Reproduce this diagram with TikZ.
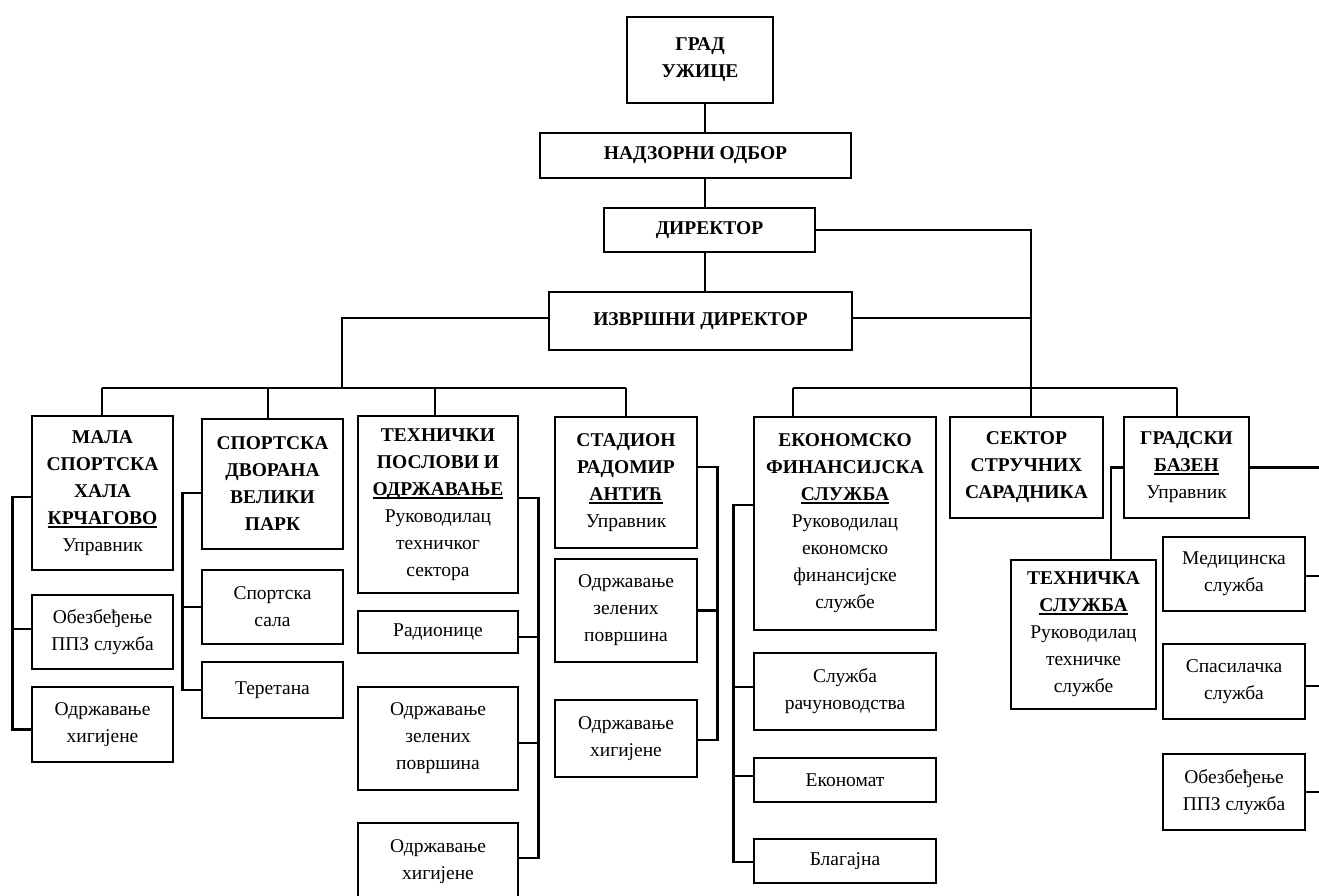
\documentclass[tikz,border=0pt]{standalone}
\usepackage{fontspec}
\setmainfont{Liberation Serif}
\newcommand\fsz{\fontsize{19.5pt}{27pt}\selectfont}
\newcommand\bfl[1]{\textbf{#1}}
\newcommand\ulc[1]{\setbox0=\hbox{\textbf{#1}}\rlap{\rule[-3.2pt]{\wd0}{1.8pt}}\box0}
\begin{document}
\begin{tikzpicture}[x=1pt,y=-1pt,
  line width=2.8pt,
  box/.style={draw, line width=2.8pt, inner sep=0pt, align=center, font=\fsz, fill=white},
  sz/.style 2 args={minimum width=#1pt, minimum height=#2pt}]
\useasboundingbox (0,0) rectangle (1319,896);
\clip (0,0) rectangle (1319,896);
\fill[white] (0,0) rectangle (1319,896);

% top chain
\node[box, sz={146}{86}] (grad) at (700,60) {\fontsize{19.5pt}{30pt}\selectfont\bfl{ГРАД}\\\bfl{УЖИЦЕ}};
\node[box, sz={311}{45}] (nad) at (695.5,155.5) {\bfl{НАДЗОРНИ ОДБОР}};
\node[box, sz={211}{44}] (dir) at (709.5,230) {\bfl{ДИРЕКТОР}};
\node[box, sz={303}{58}] (izv) at (700.5,321) {\bfl{ИЗВРШНИ ДИРЕКТОР}};

% left group
\node[box, sz={141}{154}] (mala) at (102.5,493) {\bfl{МАЛА}\\\bfl{СПОРТСКА}\\\bfl{ХАЛА}\\\ulc{КРЧАГОВО}\\Управник};
\node[box, sz={141}{74}] (malaA) at (102.5,632) {Обезбеђење\\ППЗ служба};
\node[box, sz={141}{75}] (malaB) at (102.5,724.5) {Одржавање\\хигијене};

\node[box, sz={141}{130}] (sport) at (272.5,484) {\bfl{СПОРТСКА}\\\bfl{ДВОРАНА}\\\bfl{ВЕЛИКИ}\\\bfl{ПАРК}};
\node[box, sz={141}{74}] (sala) at (272.5,607) {Спортска\\сала};
\node[box, sz={141}{56}] (teret) at (272.5,690) {Теретана};

\node[box, sz={160}{177}] (teh) at (438,504.5) {\bfl{ТЕХНИЧКИ}\\\bfl{ПОСЛОВИ И}\\\ulc{ОДРЖАВАЊЕ}\\Руководилац\\техничког\\сектора};
\node[box, sz={160}{42}] (rad) at (438,632) {Радионице};
\node[box, sz={160}{103}] (tehZ) at (438,738.5) {Одржавање\\зелених\\површина};
\node[box, sz={160}{78}] (tehH) at (438,862) {Одржавање\\хигијене};

\node[box, sz={142}{131}] (stad) at (626,482.5) {\bfl{СТАДИОН}\\\bfl{РАДОМИР}\\\ulc{АНТИЋ}\\Управник};
\node[box, sz={142}{103}] (stZ) at (626,610.5) {Одржавање\\зелених\\површина};
\node[box, sz={142}{77}] (stH) at (626,738.5) {Одржавање\\хигијене};

% right group
\node[box, sz={182}{213}] (eko) at (845,523.5) {\bfl{ЕКОНОМСКО}\\\bfl{ФИНАНСИЈСКА}\\\ulc{СЛУЖБА}\\Руководилац\\економско\\финансијске\\службе};
\node[box, sz={182}{77}] (ekoS) at (845,691.5) {Служба\\рачуноводства};
\node[box, sz={182}{44}] (ekoE) at (845,780) {Економат};
\node[box, sz={182}{44}] (ekoB) at (845,861) {Благајна};

\node[box, sz={153}{101}] (sek) at (1026.5,467.5) {\bfl{СЕКТОР}\\\bfl{СТРУЧНИХ}\\\bfl{САРАДНИКА}};
\node[box, sz={125}{101}] (grb) at (1186.5,467.5) {\bfl{ГРАДСКИ}\\\ulc{БАЗЕН}\\Управник};
\node[box, sz={145}{149}] (tsl) at (1083.5,634.5) {\bfl{ТЕХНИЧКА}\\\ulc{СЛУЖБА}\\Руководилац\\техничке\\службе};
\node[box, sz={142}{74}] (med) at (1234,574) {Медицинска\\служба};
\node[box, sz={142}{75}] (spa) at (1234,681.5) {Спасилачка\\служба};
\node[box, sz={142}{76}] (obz) at (1234,792) {Обезбеђење\\ППЗ служба};

% coordinates
\coordinate (spine) at (705,0);
\coordinate (rv) at (1031,0);
\coordinate (lb) at (342,388);
\coordinate (busL) at (102,388);
\coordinate (v2) at (268,388);
\coordinate (v3) at (435,388);
\coordinate (busR) at (626,388);
\coordinate (rb1) at (793,388);
\coordinate (rb3) at (1177,388);
\coordinate (tk) at (1111,0);
\coordinate (edge) at (1325,0);

% connectors
\draw (grad.south -| spine) -- (nad.north -| spine);
\draw (nad.south -| spine) -- (dir.north -| spine);
\draw (dir.south -| spine) -- (izv.north -| spine);
\draw (dir.east) -| (sek.north -| rv);
\draw ([yshift=3pt]izv.east) -- ++(179,0);
\draw ([yshift=3pt]izv.west) -| (lb);

\draw (busL) -- (busR);
\draw (busL) -- (busL |- mala.north);
\draw (v2) -- (v2 |- sport.north);
\draw (v3) -- (v3 |- teh.north);
\draw (busR) -- (busR |- stad.north);

\draw (rb1) -- (rb3);
\draw (rb1) -- (rb1 |- eko.north);
\draw (rb3) -- (rb3 |- grb.north);

\draw ([yshift=-4pt]mala.west) -- ++(-18,0) |- ([yshift=-5pt]malaB.west);
\draw ([yshift=3pt]malaA.west) -- ++(-18,0);

\draw ([yshift=-9pt]sport.west) -- ++(-18,0) |- (teret.west);
\draw (sala.west) -- ++(-18,0);

\draw ([yshift=6.5pt]teh.east) -- ++(19,0) |- ([yshift=4pt]tehH.east);
\draw ([yshift=-5pt]rad.east) -- ++(19,0);
\draw ([yshift=-4.5pt]tehZ.east) -- ++(19,0);

\draw ([yshift=15.5pt]stad.east) -- ++(19,0) |- ([yshift=-1.5pt]stH.east);
\draw (stZ.east) -- ++(19,0);

\draw ([yshift=18.5pt]eko.west) -- ++(-19.5,0) |- ([yshift=-1pt]ekoB.west);
\draw ([yshift=4.5pt]ekoS.west) -- ++(-19.5,0);
\draw ([yshift=4pt]ekoE.west) -- ++(-19.5,0);

\draw (grb.east) -- (grb.east -| edge);
\draw (grb.west) -| (tk |- tsl.north);
\draw ([yshift=-2pt]med.east) -- ++(20,0);
\draw ([yshift=-4.5pt]spa.east) -- ++(20,0);
\draw (obz.east) -- ++(20,0);
\end{tikzpicture}
\end{document}
